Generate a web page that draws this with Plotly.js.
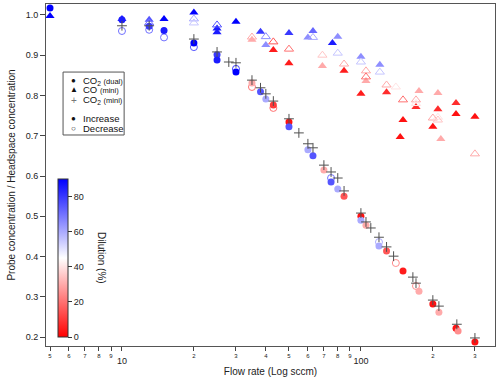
<!DOCTYPE html>
<html>
<head>
<meta charset="utf-8">
<script src="https://cdn.plot.ly/plotly-3.0.1.min.js"></script>
<style>
  body { margin: 0; padding: 0; background: #fff; }
  #chart { width: 500px; height: 382px; }
</style>
</head>
<body>
<div id="chart"></div>
<script>
// CO2 (dual) - increasing flow (filled circles)
const dualIncFlow  = [5, 10, 13, 15, 20, 25, 25, 30, 35, 38, 40, 43, 50, 50, 60, 63, 70, 75, 80, 85, 100, 100, 105, 119, 128, 150, 175, 200, 212, 250, 255, 300];
const dualIncRatio = [1.017, 0.988, 0.972, 0.961, 0.930, 0.901, 0.888, 0.858, 0.831, 0.809, 0.791, 0.776, 0.734, 0.722, 0.665, 0.650, 0.615, 0.585, 0.568, 0.550, 0.500, 0.490, 0.478, 0.426, 0.414, 0.364, 0.314, 0.282, 0.262, 0.222, 0.215, 0.188];
const dualIncDil   = [90, 85, 80, 85, 90, 80, 85, 90, 30, 75, 60, 10, 3, 75, 60, 75, 30, 75, 60, 15, 3, 60, 30, 60, 15, 5, 30, 3, 30, 3, 25, 3];

// CO2 (dual) - decreasing flow (open circles)
const dualDecFlow  = [10, 13, 15, 20, 30, 35, 43, 75, 119, 140, 170];
const dualDecRatio = [0.960, 0.963, 0.944, 0.920, 0.866, 0.821, 0.769, 0.595, 0.436, 0.384, 0.327];
const dualDecDil   = [70, 70, 70, 75, 80, 20, 20, 70, 60, 25, 25];

// CO (mini) - increasing flow (filled triangles)
const coIncFlow  = [5, 10, 13, 15, 20, 25, 25, 30, 35, 38, 40, 43, 50, 50, 60, 63, 69, 76, 80, 85, 100, 100, 105, 120, 128, 146, 150, 170, 175, 200, 210, 210, 216, 250, 250, 300];
const coIncRatio = [0.997, 0.990, 0.988, 0.990, 1.006, 0.966, 0.957, 0.983, 0.938, 0.958, 0.925, 0.913, 0.955, 0.880, 0.944, 0.960, 0.873, 0.930, 0.946, 0.861, 0.896, 0.804, 0.836, 0.876, 0.808, 0.697, 0.739, 0.771, 0.811, 0.722, 0.806, 0.766, 0.692, 0.781, 0.754, 0.747];
const coIncDil   = [90, 85, 75, 90, 90, 85, 85, 90, 30, 80, 65, 5, 80, 5, 65, 72, 30, 85, 65, 5, 65, 5, 30, 65, 8, 3, 3, 8, 30, 3, 30, 8, 30, 8, 3, 3];

// CO (mini) - decreasing flow (open triangles)
const coDecFlow  = [13, 20, 20, 25, 35, 40, 43, 50, 63, 69, 80, 85, 100, 105, 105, 120, 128, 140, 150, 170, 170, 200, 210, 210, 300];
const coDecRatio = [0.980, 0.990, 0.980, 0.975, 0.945, 0.946, 0.933, 0.915, 0.944, 0.900, 0.905, 0.878, 0.883, 0.861, 0.846, 0.858, 0.826, 0.821, 0.789, 0.789, 0.780, 0.744, 0.746, 0.739, 0.655];
const coDecDil   = [70, 60, 55, 75, 30, 65, 15, 20, 60, 35, 55, 30, 55, 30, 20, 55, 30, 40, 20, 30, 40, 30, 40, 35, 30];

// CO2 (mini) (grey crosses)
const miniFlow  = [10, 13, 20, 25, 28, 30, 35, 38, 40, 43, 50, 55, 60, 63, 70, 75, 80, 85, 100, 105, 110, 119, 128, 137, 165, 170, 200, 212, 252, 300];
const miniRatio = [0.973, 0.973, 0.940, 0.908, 0.883, 0.881, 0.838, 0.819, 0.804, 0.786, 0.742, 0.707, 0.680, 0.670, 0.627, 0.610, 0.595, 0.563, 0.508, 0.486, 0.471, 0.448, 0.424, 0.401, 0.349, 0.334, 0.292, 0.277, 0.232, 0.198];

// axis ticks
const minorTicks  = [5, 6, 7, 8, 9, 20, 30, 40, 50, 60, 70, 80, 90, 200, 300];
const minorLabels = ['5', '6', '7', '8', '9', '2', '3', '4', '5', '6', '7', '8', '9', '2', '3'];
const majorTicks  = [10, 100];
const majorLabels = ['10', '100'];
const yTicks = [0.2, 0.3, 0.4, 0.5, 0.6, 0.7, 0.8, 0.9, 1.0];
const cbTicks = [0, 20, 40, 60, 80];

// legend rows
const legendSymbols = ['●', '▲', '+', '●', '○'];
const legendSymbolColors = ['#111', '#111', '#777', '#111', '#111'];
const legendLabels = [
    'CO<sub>2</sub>&nbsp;<span style="font-size:7.5px">(dual)</span>',
    'CO&nbsp;<span style="font-size:7.5px">(mini)</span>',
    'CO<sub>2</sub>&nbsp;<span style="font-size:7.5px">(mini)</span>',
    'Increase',
    'Decrease'
];
const legendRowY = [0.775, 0.749, 0.719, 0.664, 0.637];

const FONT = 'Liberation Sans, Arial, Helvetica, sans-serif';
const scale = [[0, 'rgb(255,0,0)'], [0.5, 'rgb(255,255,255)'], [1, 'rgb(0,0,255)']];

function colored(x, y, dil, symbol, size, extra) {
    let m = {
        symbol: symbol,
        size: size,
        color: dil,
        colorscale: scale,
        cmin: 0,
        cmax: 90,
        showscale: false,
        line: {width: symbol.indexOf('open') >= 0 ? 1 : 0}
    };
    Object.assign(m, extra || {});
    return {x: x, y: y, type: 'scatter', mode: 'markers', marker: m, showlegend: false, hoverinfo: 'skip'};
}

const traces = [
    colored(coIncFlow, coIncRatio, coIncDil, 'triangle-up', 8),
    colored(coDecFlow, coDecRatio, coDecDil, 'triangle-up-open', 8),
    colored(dualDecFlow, dualDecRatio, dualDecDil, 'circle-open', 7),
    colored(dualIncFlow, dualIncRatio, dualIncDil, 'circle', 7, {
        showscale: true,
        colorbar: {
            x: 0.027, xanchor: 'left', xpad: 0,
            y: 0.257, yanchor: 'middle', ypad: 0,
            len: 0.462, lenmode: 'fraction',
            thickness: 10,
            outlinewidth: 1, outlinecolor: '#333',
            tickvals: cbTicks,
            ticks: 'outside', ticklen: 4, tickcolor: '#333',
            tickfont: {size: 9, family: FONT, color: '#222'}
        }
    }),
    {
        x: miniFlow, y: miniRatio, type: 'scatter', mode: 'markers',
        marker: {symbol: 'cross-thin-open', size: 7, color: 'rgb(80,80,80)', line: {width: 1, color: 'rgb(80,80,80)'}},
        showlegend: false, hoverinfo: 'skip'
    },
    // carries the 10 / 100 labels
    {x: majorTicks, y: [null, null], xaxis: 'x2', type: 'scatter', mode: 'markers', showlegend: false, hoverinfo: 'skip'}
];

const xRange = [Math.log10(4.81), Math.log10(364)];

let annotations = [{
    xref: 'paper', yref: 'paper',
    x: 0.125, y: 0.257, xanchor: 'center', yanchor: 'middle',
    textangle: 90, showarrow: false,
    text: 'Dilution (%)',
    font: {size: 10, family: FONT, color: '#222'}
}];
for (let i = 0; i < legendLabels.length; i++) {
    annotations.push({
        xref: 'paper', yref: 'paper', x: 0.062, y: legendRowY[i],
        xanchor: 'center', yanchor: 'middle', showarrow: false,
        text: legendSymbols[i],
        font: {size: i == 2 ? 10 : 8, family: FONT, color: legendSymbolColors[i]}
    });
    annotations.push({
        xref: 'paper', yref: 'paper', x: 0.078, y: legendRowY[i],
        xanchor: 'left', yanchor: 'middle', showarrow: false,
        text: legendLabels[i],
        font: {size: 9.5, family: FONT, color: '#111'}
    });
}

const layout = {
    width: 500,
    height: 382,
    margin: {l: 46, r: 5, t: 4, b: 36},
    paper_bgcolor: '#fff',
    plot_bgcolor: '#fff',
    font: {family: FONT, color: '#222'},
    showlegend: false,
    xaxis: {
        type: 'log',
        range: xRange,
        tickvals: minorTicks.concat(majorTicks),
        ticktext: minorLabels.concat(['', '']),
        tickfont: {size: 6, family: FONT},
        ticks: 'outside', ticklen: 4, tickcolor: '#444',
        showgrid: false, zeroline: false,
        showline: true, linecolor: '#555', linewidth: 1, mirror: true,
        title: {text: 'Flow rate (Log sccm)', font: {size: 10, family: FONT}, standoff: 9}
    },
    xaxis2: {
        type: 'log',
        range: xRange,
        overlaying: 'x',
        anchor: 'y',
        side: 'bottom',
        tickvals: majorTicks,
        ticktext: majorLabels,
        tickfont: {size: 9, family: FONT},
        ticks: '', ticklabelstandoff: 8,
        showgrid: false, zeroline: false, showline: false
    },
    yaxis: {
        range: [0.178, 1.027],
        tickvals: yTicks,
        tickformat: '.1f',
        tickfont: {size: 9, family: FONT},
        ticks: 'outside', ticklen: 5, tickcolor: '#444',
        showgrid: false, zeroline: false,
        showline: true, linecolor: '#555', linewidth: 1, mirror: true,
        title: {text: 'Probe concentration / Headspace concentration', font: {size: 10, family: FONT}, standoff: 8}
    },
    shapes: [{
        type: 'rect', xref: 'paper', yref: 'paper',
        x0: 0.038, x1: 0.174, y0: 0.617, y1: 0.801,
        line: {color: '#555', width: 1}, fillcolor: '#fff', layer: 'above'
    }],
    annotations: annotations
};

Plotly.newPlot('chart', traces, layout, {displayModeBar: false, staticPlot: true});
</script>
</body>
</html>
